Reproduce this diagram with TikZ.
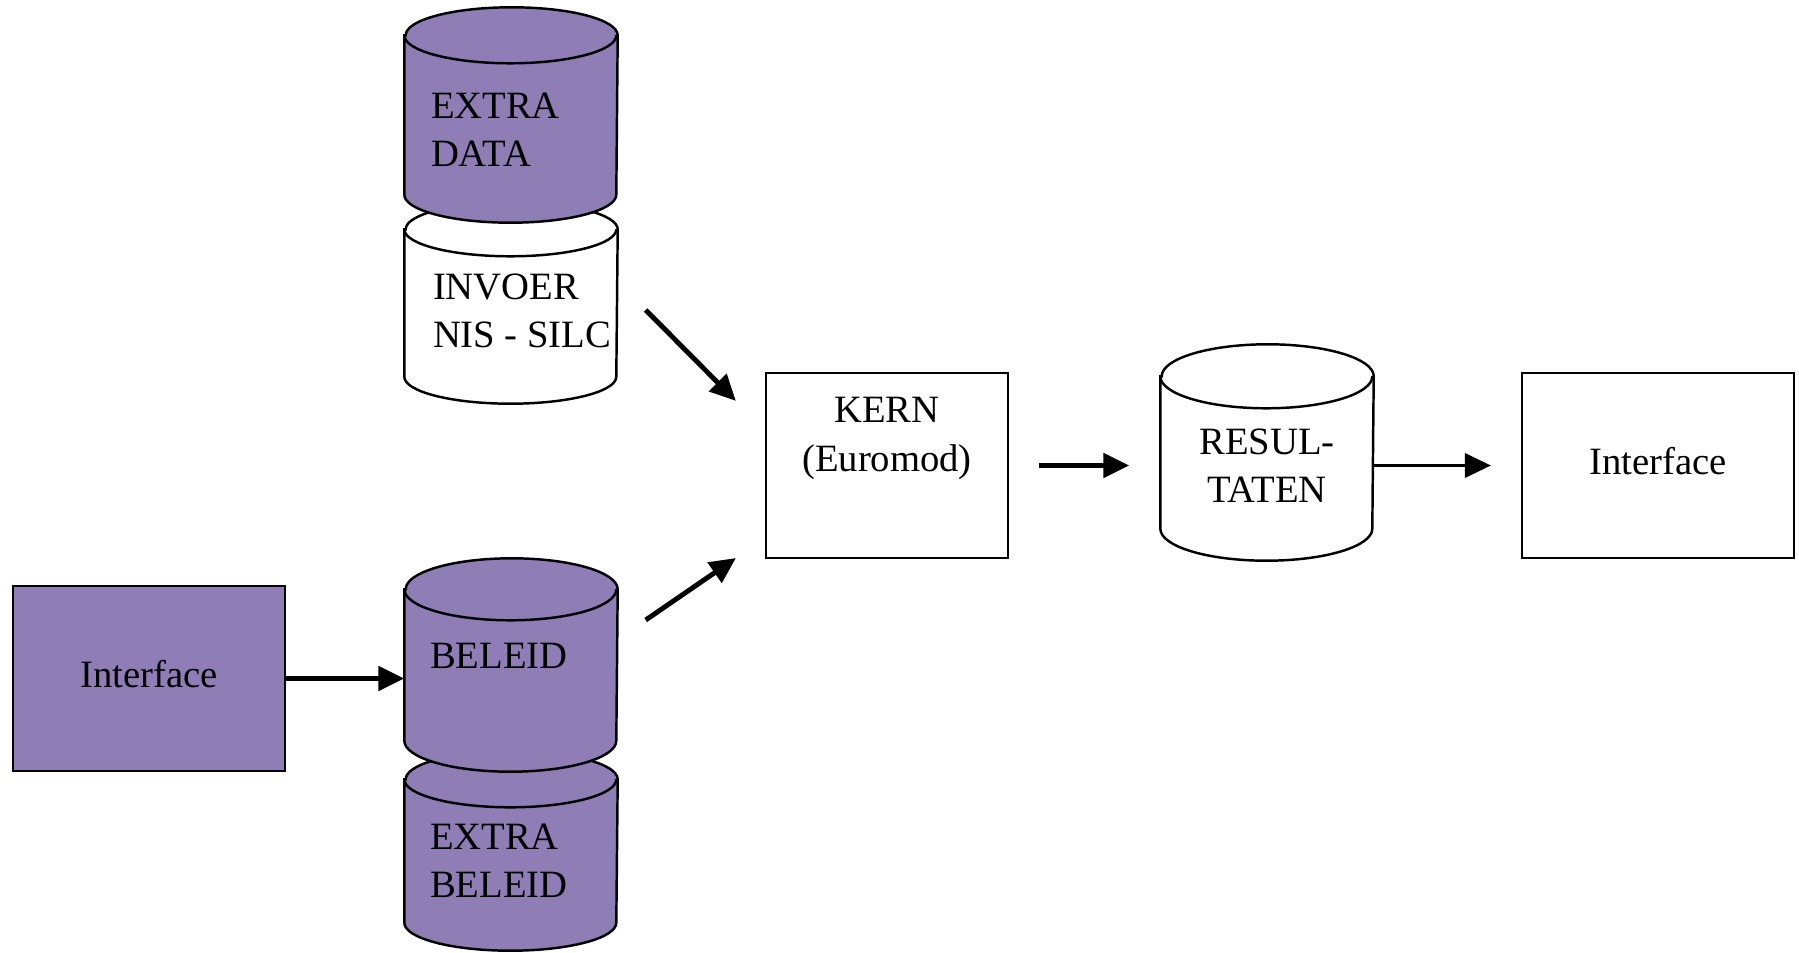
\documentclass[tikz,border=0pt]{standalone}
\usepackage{fontspec}
\setmainfont{Liberation Serif}
\usetikzlibrary{arrows.meta,backgrounds}

\definecolor{dbpurple}{RGB}{143,125,182}
\newcommand{\dbfont}{\fontsize{11}{13.7}\selectfont}
% drum around a body node: node, fill, y radius of the ends
\newcommand{\dbdrum}[3]{%
  \filldraw[line width=0.7pt, fill=#2] (#1.north west) -- (#1.south west)
    arc[start angle=180, end angle=360, x radius=1.06, y radius=#3]
    -- (#1.north east)
    arc[start angle=0, end angle=180, x radius=1.06, y radius=#3] -- cycle;
  \draw[line width=0.7pt] (#1.north west)
    arc[start angle=180, end angle=360, x radius=1.06, y radius=#3];}

\begin{document}
\begin{tikzpicture}[
  box/.style={draw, line width=0.6pt, inner sep=0pt, font=\dbfont},
  body/.style={minimum width=2.12cm, inner sep=0pt},
  dblabel/.style={font=\dbfont, inner sep=0pt, align=left, anchor=north west},
  arr/.style={-{Triangle[length=2.6mm,width=2.4mm]}, line width=1.4pt}]
\useasboundingbox (0,0) rectangle (17.99,9.52);
% data stores
\node[body, minimum height=1.58cm, label={[dblabel, xshift=0.26cm, yshift=-0.57cm]north west:{EXTRA\\DATA}}] (extradata) at (5.11,8.37) {};
\node[body, minimum height=1.46cm, label={[dblabel, xshift=0.28cm, yshift=-0.44cm]north west:{INVOER\\NIS - SILC}}] (invoer) at (5.11,6.49) {};
\node[body, minimum height=1.50cm, label={[dblabel, xshift=0.25cm, yshift=-0.53cm]north west:BELEID}] (beleid) at (5.11,2.87) {};
\node[body, minimum height=1.42cm, label={[dblabel, xshift=0.25cm, yshift=-0.44cm]north west:{EXTRA\\BELEID}}] (extrabeleid) at (5.11,1.01) {};
\node[body, minimum height=1.51cm, label={[dblabel, anchor=north, align=center, yshift=-0.52cm]north:{RESUL-\\TATEN}}] (resul) at (12.67,4.995) {};
% boxes
\node[box, fill=dbpurple, minimum width=2.72cm, minimum height=1.85cm, text depth=0.1cm] (linterface) at (1.49,2.735) {Interface};
\node[box, minimum width=2.42cm, minimum height=1.85cm, label={[dblabel, anchor=north, align=center, yshift=-0.25cm]north:{KERN\\(Euromod)}}] (kern) at (8.87,4.865) {};
\node[box, minimum width=2.72cm, minimum height=1.85cm, text depth=0.1cm] (rinterface) at (16.58,4.865) {Interface};
% drums behind the text
\begin{scope}[on background layer]
\dbdrum{invoer}{white}{0.27}
\dbdrum{extradata}{dbpurple}{0.28}
\dbdrum{extrabeleid}{dbpurple}{0.28}
\dbdrum{beleid}{dbpurple}{0.31}
\dbdrum{resul}{white}{0.32}
\end{scope}
% arrows
\draw[arr] ([shift={(0.28,-0.07)}]invoer.east) -- ([shift={(-0.29,-0.29)}]kern.north west);
\draw[arr] ([shift={(0.28,0.45)}]beleid.east) -- ([shift={(-0.29,0.01)}]kern.south west);
\draw[arr] ([xshift=3mm]kern.east) -- ([xshift=-3.1mm]kern.east -| resul.west);
\draw[arr, line width=1pt] (resul.east |- rinterface.west) -- ([xshift=-3mm]rinterface.west);
\draw[arr] (linterface.east) -- (linterface.east -| beleid.west);
\end{tikzpicture}
\end{document}
